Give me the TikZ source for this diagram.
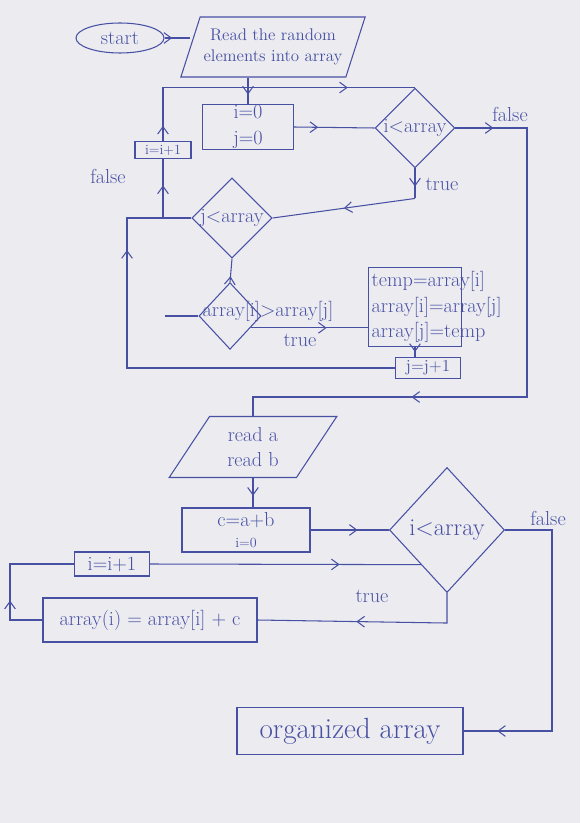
\documentclass[tikz,border=0pt]{standalone}
\usepackage{tikz}
\usetikzlibrary{arrows.meta,positioning,shapes.geometric,decorations.markings}
\definecolor{ink}{RGB}{72,80,164}
\definecolor{paper}{RGB}{236,236,240}

\begin{document}
\begin{tikzpicture}[x=0.03cm,y=-0.03cm,
  line/.style={ink,line width=0.9pt},
  arr/.style={postaction={decorate,decoration={markings,mark=at position #1 with {\arrow[ink,line width=0.9pt]{Straight Barb[length=2.2mm,width=3.2mm]}}}}},
  arr/.default=.5,
  box/.style={draw=ink,line width=0.9pt,text=ink,font=\LARGE,align=center,inner sep=3pt},
  io/.style={box,trapezium,trapezium stretches=true},
  cond/.style={box,diamond,inner sep=0pt},
  lbl/.style={text=ink,font=\LARGE}]
\useasboundingbox (0,0) rectangle (580,823);
\fill[paper] (0,0) rectangle (580,823);
\node[box,ellipse,minimum width=2.64cm,minimum height=0.9cm,inner sep=1pt] (start) at (120,38) {start};
\node[io,font=\Large,trapezium left angle=66,trapezium right angle=114,minimum width=5.1cm,minimum height=1.8cm] (read) at (273,47) {Read the random\\elements into array};
\node[box,minimum width=2.73cm,minimum height=1.26cm,inner sep=1pt] (init) at (248,127) {i=0\\j=0};
\node[cond] (iq) at (415,128) {i<array};
\node[cond] (jq) at (232,218) {j<array};
\node[box,font=\large,minimum width=1.68cm,minimum height=0.5cm,inner sep=0.5pt] (inci) at (163,150) {i=i+1};
\node[cond,minimum width=1.86cm,minimum height=2cm] (swapq) at (230,316) {};
\node[lbl,anchor=west] (swaptxt) at ([yshift=4pt]swapq.west) {array[i]>array[j]};
\node[box,text width=2.6cm,align=left,minimum height=2.25cm] (swap) at (415,307) {temp=array[i]\\array[i]=array[j]\\array[j]=temp};
\node[box,font=\Large,minimum width=1.95cm,minimum height=0.63cm,inner sep=1pt] (incj) at (428,368) {j=j+1};
\node[io,trapezium left angle=60,trapezium right angle=120,minimum width=5.07cm,minimum height=1.83cm] (read2) at (253,447) {read a\\read b};
\node[box,minimum width=3.84cm,minimum height=1.32cm,inner sep=1pt] (sum) at (246,530) {c=a+b\\[-4pt]{\large i=0}};
\node[cond,font=\huge,minimum width=3.45cm,minimum height=3.75cm] (iq2) at (447,530) {i<array};
\node[box,minimum width=2.25cm,minimum height=0.72cm,inner sep=1pt] (inci2) at (112,564) {i=i+1};
\node[box,minimum width=6.42cm,minimum height=1.32cm] (update) at (150,620) {array(i) = array[i] + c};
\node[box,font=\Huge,minimum width=6.78cm,minimum height=1.41cm] (result) at (350,731) {organized array};
\node[lbl] (false1) at (510,114) {false};
\node[lbl] (true1) at (442,184) {true};
\node[lbl] (false2) at (108,176) {false};
\node[lbl] (true2) at (300,340) {true};
\node[lbl] (false3) at (548,518) {false};
\node[lbl] (true3) at (372,596) {true};
\coordinate (jl) at (163,218);
\coordinate (f1) at (527,128);
\coordinate (f2) at (527,397);
\coordinate (sw) at (165,316);
\coordinate (b1) at (127,368);
\coordinate (b2) at (127,218);
\coordinate (f3) at (552,530);
\coordinate (f4) at (552,731);
\coordinate (c1) at (10,620);
\coordinate (c2) at (10,564);
\draw[line,arr=.3] (start.east) -- (start.east -| read.west);
\draw[line,arr=.65] (init.north |- read.south) -- (init.north);
\draw[line,arr=.3] (init.east) -- (iq.west);
\draw[line] (jq.west) -- (jl);
\draw[line,arr=.55] (jl) -- (inci.south);
\draw[line,arr=.05,arr=.78] (inci.north) -- (inci.north |- iq.north) -- (iq.north);
\draw[line,arr=.06,arr=.72] (iq.east) -- (f1) -- (f2) -- (f2 -| read2.north) -- (read2.north);
\draw[line,arr=.6] (iq.south) -- ++(0,30) coordinate (t1);
\draw[line,arr] (t1) -- (jq.east);
\draw[line,arr=.25] (swapq.north) -- (jq.south);
\draw[line] (sw) -- (swapq.west);
\draw[line,arr=.65] (swapq.-30) -- (swap.west |- swapq.-30);
\draw[line,arr] (swap.south) -- (swap.south |- incj.north);
\draw[line,arr=.85] (incj.west) -- (b1) -- (b2) -- (jl);
\draw[line,arr=.6] (read2.south) -- (read2.south |- sum.north);
\draw[line,arr=.6] (sum.east) -- (iq2.west);
\draw[line,arr=.9] (iq2.east) -- (f3) -- (f4) -- (result.east);
\draw[line,arr=.55] (iq2.south) -- ++(0,30) -- (update.east);
\draw[line,arr=.34] (update.west) -- (c1) -- (c2) -- (inci2.west);
\draw[line,arr=.7] (inci2.east) -- (iq2.233);
\end{tikzpicture}
\end{document}
